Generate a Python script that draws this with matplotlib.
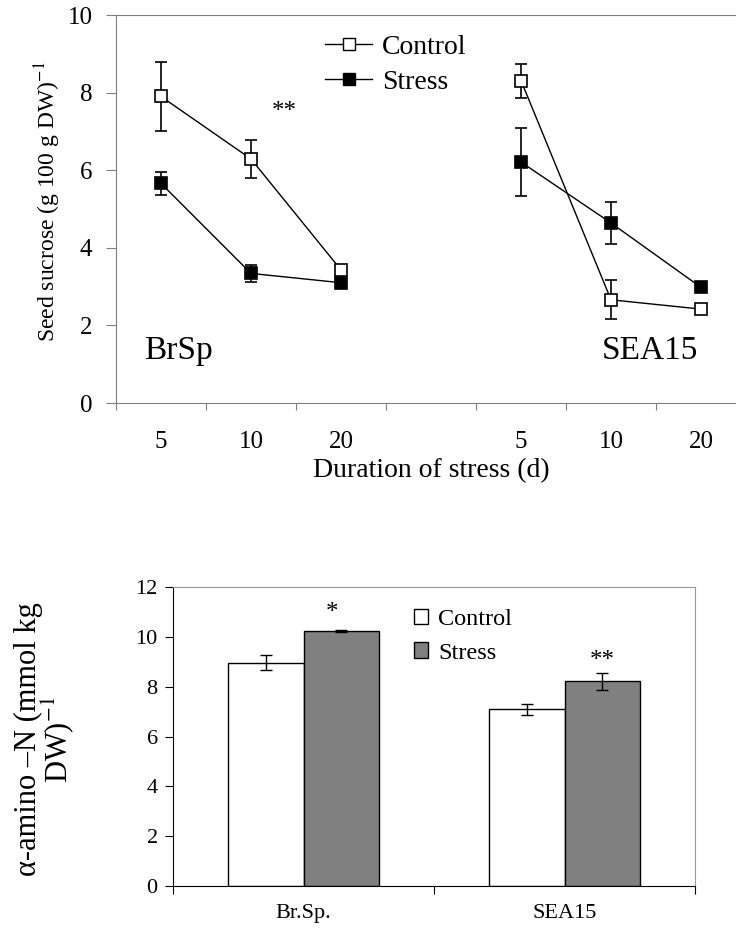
import numpy as np
import matplotlib
matplotlib.use('Agg')
from matplotlib import pyplot as plt
from matplotlib.lines import Line2D
from matplotlib.patches import Patch

plt.rcParams['font.family'] = ['Liberation Serif', 'DejaVu Serif']
plt.rcParams['mathtext.fontset'] = 'stix'

# top panel: seed sucrose
days = ['5', '10', '20']
brsp_control = [7.9, 6.29, 3.43]
brsp_control_err = [0.9, 0.5, 0.08]
brsp_stress = [5.66, 3.34, 3.10]
brsp_stress_err = [0.3, 0.21, 0.05]
sea_control = [8.31, 2.66, 2.42]
sea_control_err = [0.44, 0.5, 0.1]
sea_stress = [6.21, 4.64, 2.98]
sea_stress_err = [0.88, 0.53, 0.05]

# bottom panel: alpha-amino N
genotypes = ['Br.Sp.', 'SEA15']
amino_control = [8.96, 7.09]
amino_control_err = [0.31, 0.22]
amino_stress = [10.23, 8.22]
amino_stress_err = [0.04, 0.34]

grey = '#7f7f7f'
fig = plt.figure(figsize=(7.36, 9.35), dpi=100)

# ---------- top ----------
ax1 = fig.add_axes([116 / 736, 1 - 403 / 935, 630 / 736, 388 / 935])
pos_b = np.arange(3)
pos_s = np.arange(3) + 4

eb = dict(color='black', lw=1, capsize=4.5, capthick=1, elinewidth=1.2,
          marker='s', markersize=9, markeredgewidth=1.2, markeredgecolor='black')
ax1.errorbar(pos_b, brsp_control, yerr=brsp_control_err, markerfacecolor='white', **eb)
ax1.errorbar(pos_b, brsp_stress, yerr=brsp_stress_err, markerfacecolor='black', **eb)
ax1.errorbar(pos_s, sea_control, yerr=sea_control_err, markerfacecolor='white', **eb)
ax1.errorbar(pos_s, sea_stress, yerr=sea_stress_err, markerfacecolor='black', **eb)

ax1.set_xlim(-0.5, 6.5)
ax1.set_ylim(0, 10)
ax1.set_yticks(range(0, 11, 2))
ax1.set_xticks(np.arange(-0.5, 7, 1))
ax1.set_xticklabels([])
ax1.set_xticks(list(pos_b) + list(pos_s), minor=True)
ax1.set_xticklabels(days + days, minor=True, fontsize=18)
ax1.tick_params(axis='x', which='minor', length=0, pad=20)
ax1.tick_params(axis='x', which='major', direction='out', length=5, color=grey)
ax1.tick_params(axis='y', direction='out', length=7, labelsize=18, color=grey, pad=10)
for s in ['left', 'top', 'bottom']:
    ax1.spines[s].set_color(grey)
ax1.spines['right'].set_visible(False)

ax1.set_ylabel('Seed sucrose (g 100 g DW)$^{-1}$', fontsize=17)
ax1.yaxis.set_label_coords(-0.084, 0.52)
ax1.set_xlabel('Duration of stress (d)', fontsize=20, labelpad=4)
ax1.text(1.37, 7.5, '**', fontsize=18, ha='center', va='center')
ax1.text(0.19, 1.13, 'BrSp', fontsize=24, ha='center', va='baseline')
ax1.text(5.43, 1.13, 'SEA15', fontsize=24, ha='center', va='baseline')

h1 = [Line2D([], [], color='black', lw=1, marker='s', markersize=8, markerfacecolor='white',
             markeredgecolor='black'),
      Line2D([], [], color='black', lw=1, marker='s', markersize=8, markerfacecolor='black',
             markeredgecolor='black')]
ax1.legend(h1, ['Control', 'Stress'], loc='upper left', bbox_to_anchor=(0.292, 1.015),
           frameon=False, fontsize=20, handlelength=1.7, handletextpad=0.36, labelspacing=0.35)

# ---------- bottom ----------
ax2 = fig.add_axes([173 / 736, 1 - 886 / 935, 522 / 736, 299 / 935])
x = np.arange(len(genotypes))
w = 0.29
ax2.bar(x - w / 2, amino_control, w, yerr=amino_control_err, color='white', edgecolor='black',
        linewidth=1, capsize=4, error_kw=dict(elinewidth=1, capthick=1))
ax2.bar(x + w / 2, amino_stress, w, yerr=amino_stress_err, color='#808080', edgecolor='black',
        linewidth=1, capsize=4, error_kw=dict(elinewidth=1, capthick=1))
ax2.set_xlim(-0.5, 1.5)
ax2.set_ylim(0, 12)
ax2.set_yticks(range(0, 13, 2))
ax2.set_xticks([-0.5, 0.5, 1.5])
ax2.set_xticklabels([])
ax2.set_xticks(x, minor=True)
ax2.set_xticklabels(genotypes, minor=True, fontsize=16)
ax2.tick_params(axis='x', which='minor', length=0, pad=13)
ax2.tick_params(axis='x', which='major', direction='out', length=6)
ax2.tick_params(axis='y', direction='out', length=6, labelsize=16, pad=5)
ax2.spines['top'].set_color('#999999')
ax2.spines['right'].set_color('#999999')

ax2.text(0.11, 10.96, '*', fontsize=18, ha='center', va='center')
ax2.text(1 + w / 2, 9.05, '**', fontsize=18, ha='center', va='center')
ax2.set_ylabel('\u03b1-amino \u2013N (mmol kg\nDW)$^{-1}$', fontsize=22, linespacing=0.88)
ax2.yaxis.set_label_coords(-0.185, 0.49)

h2 = [Patch(facecolor='white', edgecolor='black', lw=1),
      Patch(facecolor='#808080', edgecolor='black', lw=1)]
ax2.legend(h2, ['Control', 'Stress'], loc='upper left', bbox_to_anchor=(0.419, 1.0),
           frameon=False, fontsize=17.5, handlelength=0.6, handleheight=0.6,
           handletextpad=0.4, labelspacing=0.5)

plt.savefig('out.png', dpi=100)
